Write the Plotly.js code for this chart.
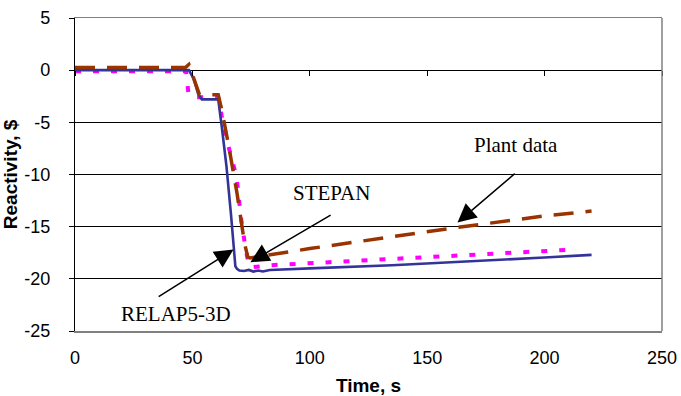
<!DOCTYPE html>
<html>
<head>
<meta charset="utf-8">
<script src="https://cdn.plot.ly/plotly-3.0.1.min.js"></script>
<style>html,body{margin:0;padding:0;background:#fff;}#chart{width:681px;height:396px;}</style>
</head>
<body>
<div id="chart"></div>
<script>
// Plant data (brown dashed)
var plantTime = [0, 47, 48.5, 50, 53, 61, 62.5, 65.5, 69, 72.2, 73.6, 74.5, 100, 134, 162, 199, 220];
var plantReact = [0.25, 0.25, 0.55, -0.5, -2.35, -2.35, -3.8, -7.3, -11.8, -16.6, -17.9, -18.0, -17.1, -16.0, -15.1, -14.0, -13.5];

// RELAP5-3D (navy solid)
var relapTime = [0, 48.5, 50.5, 52.5, 54, 61, 62.5, 64.5, 66.5, 67.5, 68.3, 69, 70, 72, 74, 76, 78, 80, 83, 100, 135, 200, 220];
var relapReact = [0, 0, -0.8, -2.3, -2.8, -2.8, -5.4, -9.2, -14.0, -17.2, -18.8, -19.05, -19.2, -19.25, -19.15, -19.3, -19.2, -19.3, -19.15, -19.0, -18.7, -17.95, -17.7];

// STEPAN (magenta dotted)
var stepanTime = [0, 47.3, 48.3, 49.5, 61, 62.5, 65.7, 68.8, 70.6, 72.7, 74.2, 75, 83, 100, 130, 170, 212];
var stepanReact = [-0.1, -0.1, -2.2, -2.6, -2.6, -4.4, -7.6, -10.2, -14.0, -17.2, -18.8, -18.9, -18.7, -18.5, -18.15, -17.7, -17.2];

// Axis ticks
var xTicks = [0, 50, 100, 150, 200, 250];
var yTicks = [-25, -20, -15, -10, -5, 0, 5];

// Labels with arrows
var labelNames = ['Plant data', 'STEPAN', 'RELAP5-3D'];
var labelX = [187.9, 109.3, 42.9];
var labelY = [-7.2, -11.8, -23.4];
var arrowHeadX = [162.9, 74.7, 67.5];
var arrowHeadY = [-14.6, -18.4, -17.2];
var arrowTailX = [187.9, 109.5, 35.0];
var arrowTailY = [-9.8, -13.8, -21.8];

var traces = [
  {x: stepanTime, y: stepanReact, mode: 'lines', name: 'STEPAN',
   line: {color: '#FF00FF', width: 4, dash: '6px,12px'}},
  {x: relapTime, y: relapReact, mode: 'lines', name: 'RELAP5-3D',
   line: {color: '#333399', width: 2.6}},
  {x: plantTime, y: plantReact, mode: 'lines', name: 'Plant data', xaxis: 'x2',
   line: {color: '#993300', width: 3.5, dash: '20px,12px'}}
];

var annotations = [];
for (var i = 0; i < labelNames.length; i++) {
  annotations.push({
    x: labelX[i], y: labelY[i], xref: 'x', yref: 'y', text: labelNames[i],
    showarrow: false, xanchor: 'center', yanchor: 'middle',
    font: {family: 'Liberation Serif, Times New Roman, serif', size: 21, color: '#000'}
  });
  annotations.push({
    x: arrowHeadX[i], y: arrowHeadY[i], xref: 'x', yref: 'y', text: '',
    showarrow: true, ax: arrowTailX[i], ay: arrowTailY[i], axref: 'x', ayref: 'y',
    arrowhead: 2, arrowsize: 2.5, arrowwidth: 1.5, arrowcolor: '#000'
  });
}

var tickFont = {family: 'Liberation Sans, Arial, sans-serif', size: 18, color: '#000'};
var titleFont = {family: 'Liberation Sans, Arial, sans-serif', size: 19, color: '#000', weight: 'bold'};

var layout = {
  width: 681, height: 396,
  margin: {l: 75, r: 19, t: 18, b: 65, pad: 0},
  paper_bgcolor: '#fff', plot_bgcolor: '#fff',
  showlegend: false,
  xaxis: {
    range: [0, 250], tickvals: xTicks, ticktext: xTicks.map(String),
    showgrid: false, zeroline: false, showline: true, linecolor: '#808080', linewidth: 1.5,
    mirror: true, ticks: '', tickfont: tickFont, ticklabelstandoff: 10,
    title: {text: '<b>Time, s</b>', font: titleFont, standoff: 12}
  },
  xaxis2: {
    range: [0, 250], tickvals: xTicks, overlaying: 'x', anchor: 'free', position: 25/30, side: 'bottom',
    showgrid: false, zeroline: false, showline: false, showticklabels: false,
    ticks: 'outside', ticklen: 5, tickcolor: '#000', tickwidth: 1
  },
  yaxis: {
    range: [-25, 5], tickvals: yTicks, ticktext: yTicks.map(String),
    showgrid: true, gridcolor: '#000', gridwidth: 1, zeroline: false,
    showline: true, linecolor: '#000', linewidth: 1.2,
    ticks: 'outside', ticklen: 5, tickcolor: '#000', tickfont: tickFont, ticklabelstandoff: 15,
    title: {text: '<b>Reactivity, $</b>', font: titleFont, standoff: 6}
  },
  shapes: [
    {type: 'line', xref: 'paper', yref: 'paper', x0: 1, x1: 1, y0: 0, y1: 1,
     line: {color: '#808080', width: 1.5}}
  ],
  annotations: annotations
};

Plotly.newPlot('chart', traces, layout, {staticPlot: true, displayModeBar: false});
</script>
</body>
</html>
